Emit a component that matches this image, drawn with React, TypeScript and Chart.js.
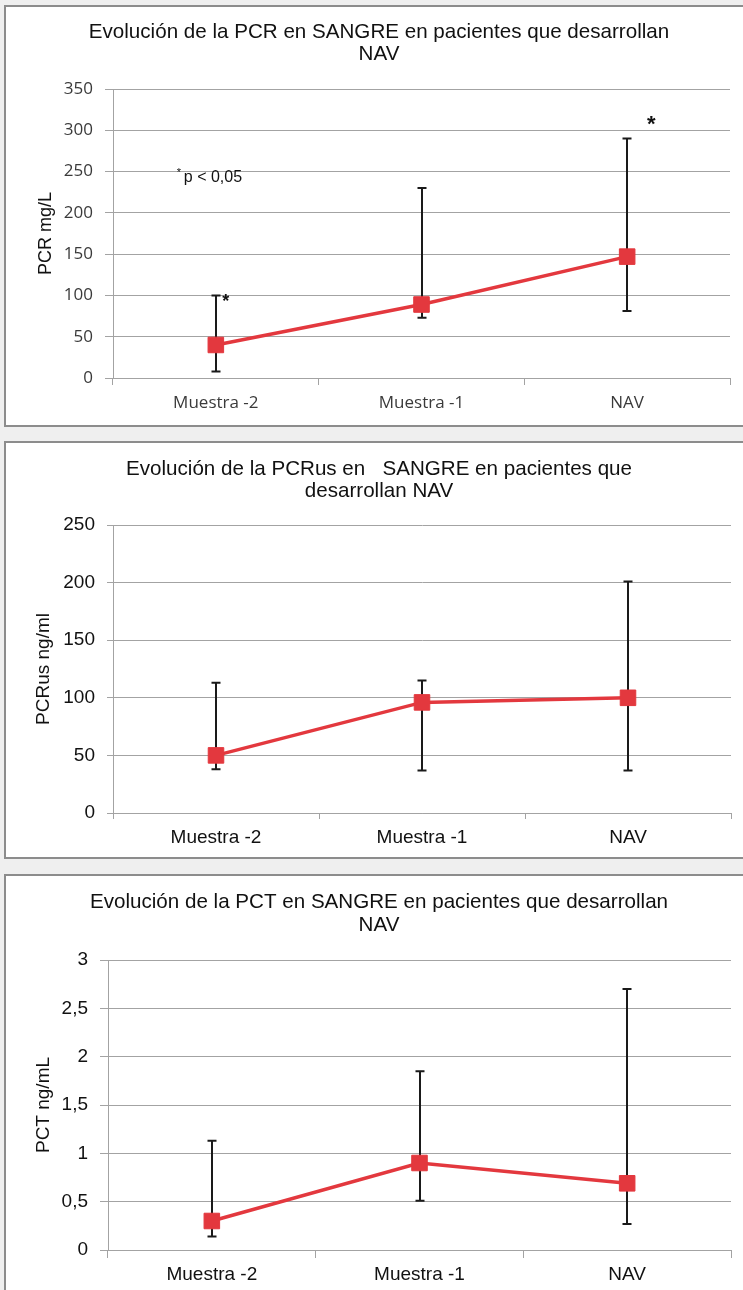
import React, { useEffect, useRef } from 'react';
import { Chart, registerables } from 'chart.js';

Chart.register(...registerables);

const categories = ['Muestra -2', 'Muestra -1', 'NAV'];

const pcrMean = [40, 89, 147];
const pcrLow = [8, 73, 81];
const pcrHigh = [100, 230, 290];

const pcrusMean = [50, 96, 100];
const pcrusLow = [38, 37, 37];
const pcrusHigh = [113, 115, 201];

const pctMean = [0.3, 0.9, 0.69];
const pctLow = [0.14, 0.51, 0.27];
const pctHigh = [1.13, 1.85, 2.7];

const pcrTitle = ['Evolución de la PCR en SANGRE en pacientes que desarrollan', 'NAV'];
const pcrusTitle = ['Evolución de la PCRus en   SANGRE en pacientes que', 'desarrollan NAV'];
const pctTitle = ['Evolución de la PCT en SANGRE en pacientes que desarrollan', 'NAV'];

const pcrAxisTitle = 'PCR mg/L';
const pcrusAxisTitle = 'PCRus ng/ml';
const pctAxisTitle = 'PCT ng/mL';

const pcrScale = { min: 0, max: 350, step: 50 };
const pcrusScale = { min: 0, max: 250, step: 50 };
const pctScale = { min: 0, max: 3, step: 0.5 };

// significance marks (category index, value)
const pcrStars = [
  { index: 0, value: 100 },
  { index: 2, value: 311 },
];
const pcrNote = { index: 0, value: 243, text: 'p < 0,05' };

const RED = '#e3383e';
const GRID = '#a3a3a3';

const errorBarsPlugin = {
  id: 'errorBars',
  beforeDatasetsDraw(chart: any, _args: any, opts: any) {
    if (!opts || !opts.low) return;
    const { ctx } = chart;
    const x = chart.scales.x;
    const y = chart.scales.y;
    ctx.save();
    ctx.strokeStyle = '#1a1a1a';
    ctx.lineWidth = 2;
    for (let i = 0; i < opts.low.length; i++) {
      const px = Math.round(x.getPixelForValue(i));
      const yl = y.getPixelForValue(opts.low[i]);
      const yh = y.getPixelForValue(opts.high[i]);
      ctx.beginPath();
      ctx.moveTo(px, yl);
      ctx.lineTo(px, yh);
      ctx.moveTo(px - 4.5, yl);
      ctx.lineTo(px + 4.5, yl);
      ctx.moveTo(px - 4.5, yh);
      ctx.lineTo(px + 4.5, yh);
      ctx.stroke();
    }
    ctx.restore();
  },
};

const starsPlugin = {
  id: 'stars',
  afterDatasetsDraw(chart: any, _args: any, opts: any) {
    if (!opts || !opts.stars) return;
    const { ctx } = chart;
    const x = chart.scales.x;
    const y = chart.scales.y;
    ctx.save();
    ctx.fillStyle = '#111';
    ctx.textBaseline = 'middle';
    ctx.textAlign = 'center';
    opts.stars.forEach((s: any, k: number) => {
      ctx.font = k === 0 ? 'bold 18px "Liberation Sans"' : 'bold 22px "Liberation Sans"';
      const px = x.getPixelForValue(s.index) + (k === 0 ? 10 : 24);
      const py = y.getPixelForValue(s.value) + (k === 0 ? 7 : 4);
      ctx.fillText('*', px, py);
    });
    if (opts.note) {
      const nx = x.getPixelForValue(opts.note.index) - 32;
      const ny = y.getPixelForValue(opts.note.value);
      ctx.textAlign = 'left';
      ctx.font = '11px "Liberation Sans"';
      ctx.fillText('*', nx - 7, ny - 4);
      ctx.font = '16px "Liberation Sans"';
      ctx.fillText(opts.note.text, nx, ny);
    }
    ctx.restore();
  },
};

type Cfg = {
  title: string[];
  axisTitle: string;
  mean: number[];
  low: number[];
  high: number[];
  scale: { min: number; max: number; step: number };
  decimalComma?: boolean;
  tickFont: any;
  tickColor: string;
  axisTitleFont: any;
  yWidth: number;
  xHeight: number;
  yTickLen: number;
  xTickLen: number;
  yPad: number;
  xPad: number;
  axisTitlePad: number;
  titlePadTop: number;
  titlePadBottom: number;
  titleLineHeight: number;
  leftPad: number;
  rightPad: number;
  stars?: any;
  note?: any;
};

function LineChart({ cfg, left, top, width, height }: { cfg: Cfg; left: number; top: number; width: number; height: number }) {
  const ref = useRef<HTMLCanvasElement>(null);
  useEffect(() => {
    if (!ref.current) return;
    const chart = new Chart(ref.current, {
      type: 'line',
      data: {
        labels: categories,
        datasets: [
          {
            data: cfg.mean,
            borderColor: RED,
            backgroundColor: RED,
            borderWidth: 3.5,
            tension: 0,
            pointStyle: 'rect',
            pointRadius: 11,
            pointHoverRadius: 11,
            pointBackgroundColor: RED,
            pointBorderColor: RED,
            pointBorderWidth: 1,
            clip: false as any,
          },
        ],
      },
      options: {
        responsive: false,
        animation: false,
        devicePixelRatio: 1,
        events: [],
        layout: { padding: { left: cfg.leftPad, top: 0, bottom: 0, right: cfg.rightPad } },
        plugins: {
          legend: { display: false },
          tooltip: { enabled: false },
          title: {
            display: true,
            text: cfg.title,
            color: '#111',
            font: { family: '"Liberation Sans", Arial, sans-serif', size: 20.6, weight: 'normal', lineHeight: cfg.titleLineHeight / 20.6 },
            padding: { top: cfg.titlePadTop, bottom: cfg.titlePadBottom },
          },
          errorBars: { low: cfg.low, high: cfg.high },
          stars: { stars: cfg.stars, note: cfg.note },
        } as any,
        scales: {
          x: {
            type: 'category',
            offset: true,
            grid: {
              display: true,
              drawOnChartArea: false,
              offset: true,
              color: GRID,
              tickLength: cfg.xTickLen,
              tickColor: GRID,
            },
            border: { display: true, color: GRID, width: 1 },
            ticks: {
              color: cfg.tickColor,
              font: cfg.tickFont,
              padding: cfg.xPad,
              maxRotation: 0,
              autoSkip: false,
            },
            afterFit: (s: any) => {
              s.height = cfg.xHeight;
            },
          },
          y: {
            min: cfg.scale.min,
            max: cfg.scale.max,
            grid: {
              color: GRID,
              tickLength: cfg.yTickLen,
              tickColor: GRID,
              lineWidth: 1,
            },
            border: { display: true, color: GRID, width: 1 },
            ticks: {
              stepSize: cfg.scale.step,
              color: cfg.tickColor,
              font: cfg.tickFont,
              padding: cfg.yPad,
              callback: (v: any) => (cfg.decimalComma ? String(v).replace('.', ',') : String(v)),
            },
            title: {
              display: true,
              text: cfg.axisTitle,
              color: '#111',
              font: cfg.axisTitleFont,
              padding: { top: cfg.axisTitlePad, bottom: 0 },
            },
            afterFit: (s: any) => {
              s.width = cfg.yWidth;
            },
          },
        },
      },
      plugins: [errorBarsPlugin, starsPlugin],
    });
    return () => chart.destroy();
  }, []);
  return (
    <canvas
      ref={ref}
      width={width}
      height={height}
      style={{ position: 'absolute', left, top, width, height }}
    />
  );
}

const arialTicks = { family: '"Liberation Sans", Arial, sans-serif', size: 19, weight: 'normal' };

const pcrCfg: Cfg = {
  title: pcrTitle,
  axisTitle: pcrAxisTitle,
  mean: pcrMean,
  low: pcrLow,
  high: pcrHigh,
  scale: pcrScale,
  tickFont: { family: '"Open Sans", sans-serif', size: 17, weight: 'normal' },
  tickColor: '#3a3a3a',
  axisTitleFont: { family: '"Liberation Sans", Arial, sans-serif', size: 18, weight: 'normal' },
  yWidth: 85,
  xHeight: 46,
  yTickLen: 8,
  xTickLen: 7,
  yPad: 12,
  xPad: 8,
  axisTitlePad: 7,
  titlePadTop: 14,
  titlePadBottom: 24,
  titleLineHeight: 22,
  leftPad: 21,
  rightPad: 13,
  stars: pcrStars,
  note: pcrNote,
};

const pcrusCfg: Cfg = {
  title: pcrusTitle,
  axisTitle: pcrusAxisTitle,
  mean: pcrusMean,
  low: pcrusLow,
  high: pcrusHigh,
  scale: pcrusScale,
  tickFont: arialTicks,
  tickColor: '#111',
  axisTitleFont: { family: '"Liberation Sans", Arial, sans-serif', size: 19, weight: 'normal' },
  yWidth: 87,
  xHeight: 44,
  yTickLen: 6,
  xTickLen: 6,
  yPad: 12,
  xPad: 7,
  axisTitlePad: 6,
  titlePadTop: 14,
  titlePadBottom: 23,
  titleLineHeight: 22,
  leftPad: 19,
  rightPad: 11,
};

const pctCfg: Cfg = {
  title: pctTitle,
  axisTitle: pctAxisTitle,
  mean: pctMean,
  low: pctLow,
  high: pctHigh,
  scale: pctScale,
  decimalComma: true,
  tickFont: arialTicks,
  tickColor: '#111',
  axisTitleFont: { family: '"Liberation Sans", Arial, sans-serif', size: 19, weight: 'normal' },
  yWidth: 82,
  xHeight: 40,
  yTickLen: 8,
  xTickLen: 8,
  yPad: 12,
  xPad: 5,
  axisTitlePad: 6,
  titlePadTop: 14,
  titlePadBottom: 23,
  titleLineHeight: 23,
  leftPad: 19,
  rightPad: 11,
};

const boxStyle = (top: number, height: number): React.CSSProperties => ({
  position: 'absolute',
  left: 4,
  top,
  width: 800,
  height,
  boxSizing: 'border-box',
  border: '2px solid #8c8c8c',
  background: '#ffffff',
});

export default function App() {
  return (
    <div
      style={{
        position: 'absolute',
        left: 0,
        top: 0,
        width: 743,
        height: 1290,
        overflow: 'hidden',
        background: '#efefef',
      }}
    >
      <div style={boxStyle(5, 422)} />
      <div style={boxStyle(441, 418)} />
      <div style={boxStyle(874, 500)} />
      <LineChart cfg={pcrCfg} left={7} top={7} width={736} height={417} />
      <LineChart cfg={pcrusCfg} left={7} top={444} width={736} height={413} />
      <LineChart cfg={pctCfg} left={7} top={877} width={736} height={413} />
    </div>
  );
}
